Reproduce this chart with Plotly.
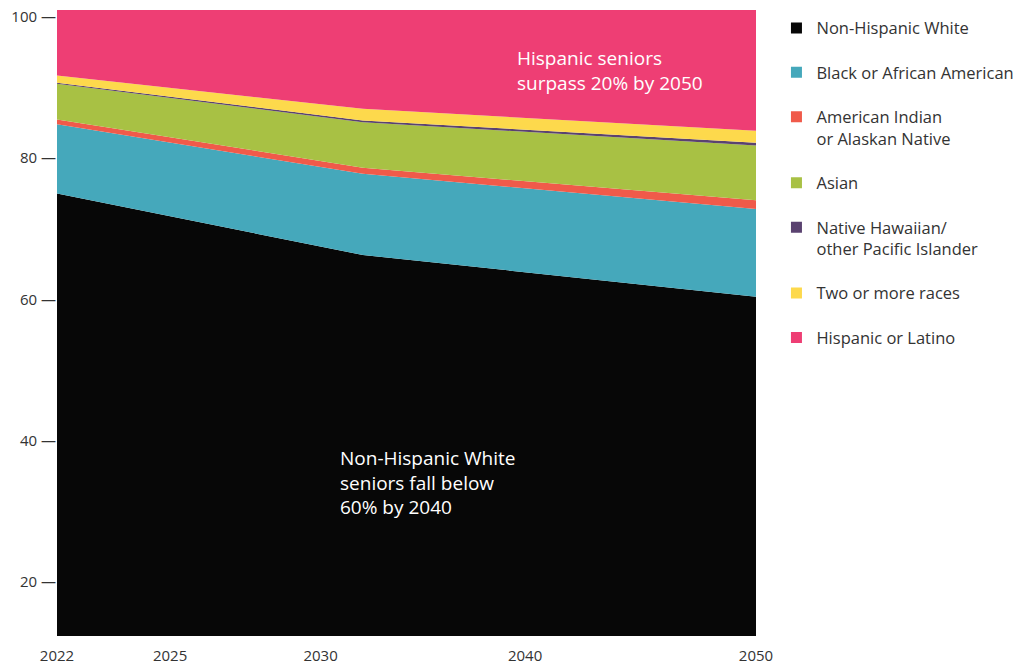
import plotly.graph_objects as go

# ---- data (percent of seniors) ----
years = [2022, 2034.25, 2050]
series_names = [
    "Non-Hispanic White",
    "Black or African American",
    "American Indian<br>or Alaskan Native",
    "Asian",
    "Native Hawaiian/<br>other Pacific Islander",
    "Two or more races",
    "Hispanic or Latino",
]
white = [75.0, 66.3, 60.4]
black = [9.8, 11.5, 12.4]
aian = [0.7, 0.85, 1.25]
asian = [5.05, 6.45, 7.75]
nhpi = [0.15, 0.25, 0.4]
multi = [1.0, 1.65, 1.7]
hispanic = [9.3, 14.0, 17.1]

x_tick_labels = ["2022", "2025", "2030", "2040", "2050"]
x_tick_pos = [2022, 2026.53, 2032.56, 2040.75, 2050]
y_ticks = [20, 40, 60, 80, 100]
y_tick_labels = [f"{v} —" for v in y_ticks]

colors = ["#070707", "#45a8bb", "#f05a4a", "#a8c144", "#5a4270", "#fdd94c", "#ee3e74"]
values = [white, black, aian, asian, nhpi, multi, hispanic]

FONT = "Open Sans"
fig = go.Figure()

for name, vals, col in zip(series_names, values, colors):
    fig.add_trace(go.Scatter(
        x=years, y=vals, stackgroup="one", mode="lines",
        line=dict(width=0, color=col), fillcolor=col,
        name=name, showlegend=False, hoverinfo="skip",
    ))

for i, (name, col) in enumerate(zip(series_names, colors)):
    fig.add_trace(go.Scatter(
        x=[None], y=[None], mode="markers",
        marker=dict(symbol="square", size=11, color=col, line=dict(width=0)),
        name=name, legendgroup=str(i), showlegend=True,
    ))

fig.add_annotation(
    x=2040.35, y=92.4, xref="x", yref="y",
    text="Hispanic seniors<br>surpass 20% by 2050",
    showarrow=False, xanchor="left", yanchor="middle", align="left",
    font=dict(family=FONT, size=19, color="white"),
)
fig.add_annotation(
    x=2033.26, y=34.1, xref="x", yref="y",
    text="Non-Hispanic White<br>seniors fall below<br>60% by 2040",
    showarrow=False, xanchor="left", yanchor="middle", align="left",
    font=dict(family=FONT, size=19, color="white"),
)

fig.update_layout(
    width=1023, height=666,
    margin=dict(l=57, r=266.5, t=10, b=30, autoexpand=False),
    paper_bgcolor="white", plot_bgcolor="white",
    font=dict(family=FONT, color="#333333"),
    legend=dict(
        x=0.759, xanchor="left", y=0.984, yanchor="top",
        xref="container", yref="container", maxheight=640,
        font=dict(family=FONT, size=16.5, color="#333333"),
        tracegroupgap=20, valign="top", traceorder="grouped",
        bgcolor="rgba(0,0,0,0)",
    ),
    xaxis=dict(
        range=[2022, 2050], tickvals=x_tick_pos, ticktext=x_tick_labels,
        showgrid=False, zeroline=False, showline=False, ticks="",
        ticklabelstandoff=9,
        tickfont=dict(family=FONT, size=15, color="#333333"),
    ),
    yaxis=dict(
        range=[12.35, 100.99], tickvals=y_ticks, ticktext=y_tick_labels,
        showgrid=False, zeroline=False, showline=False, ticks="",
        tickfont=dict(family=FONT, size=15, color="#333333"),
    ),
)

fig.write_html("out.html")
